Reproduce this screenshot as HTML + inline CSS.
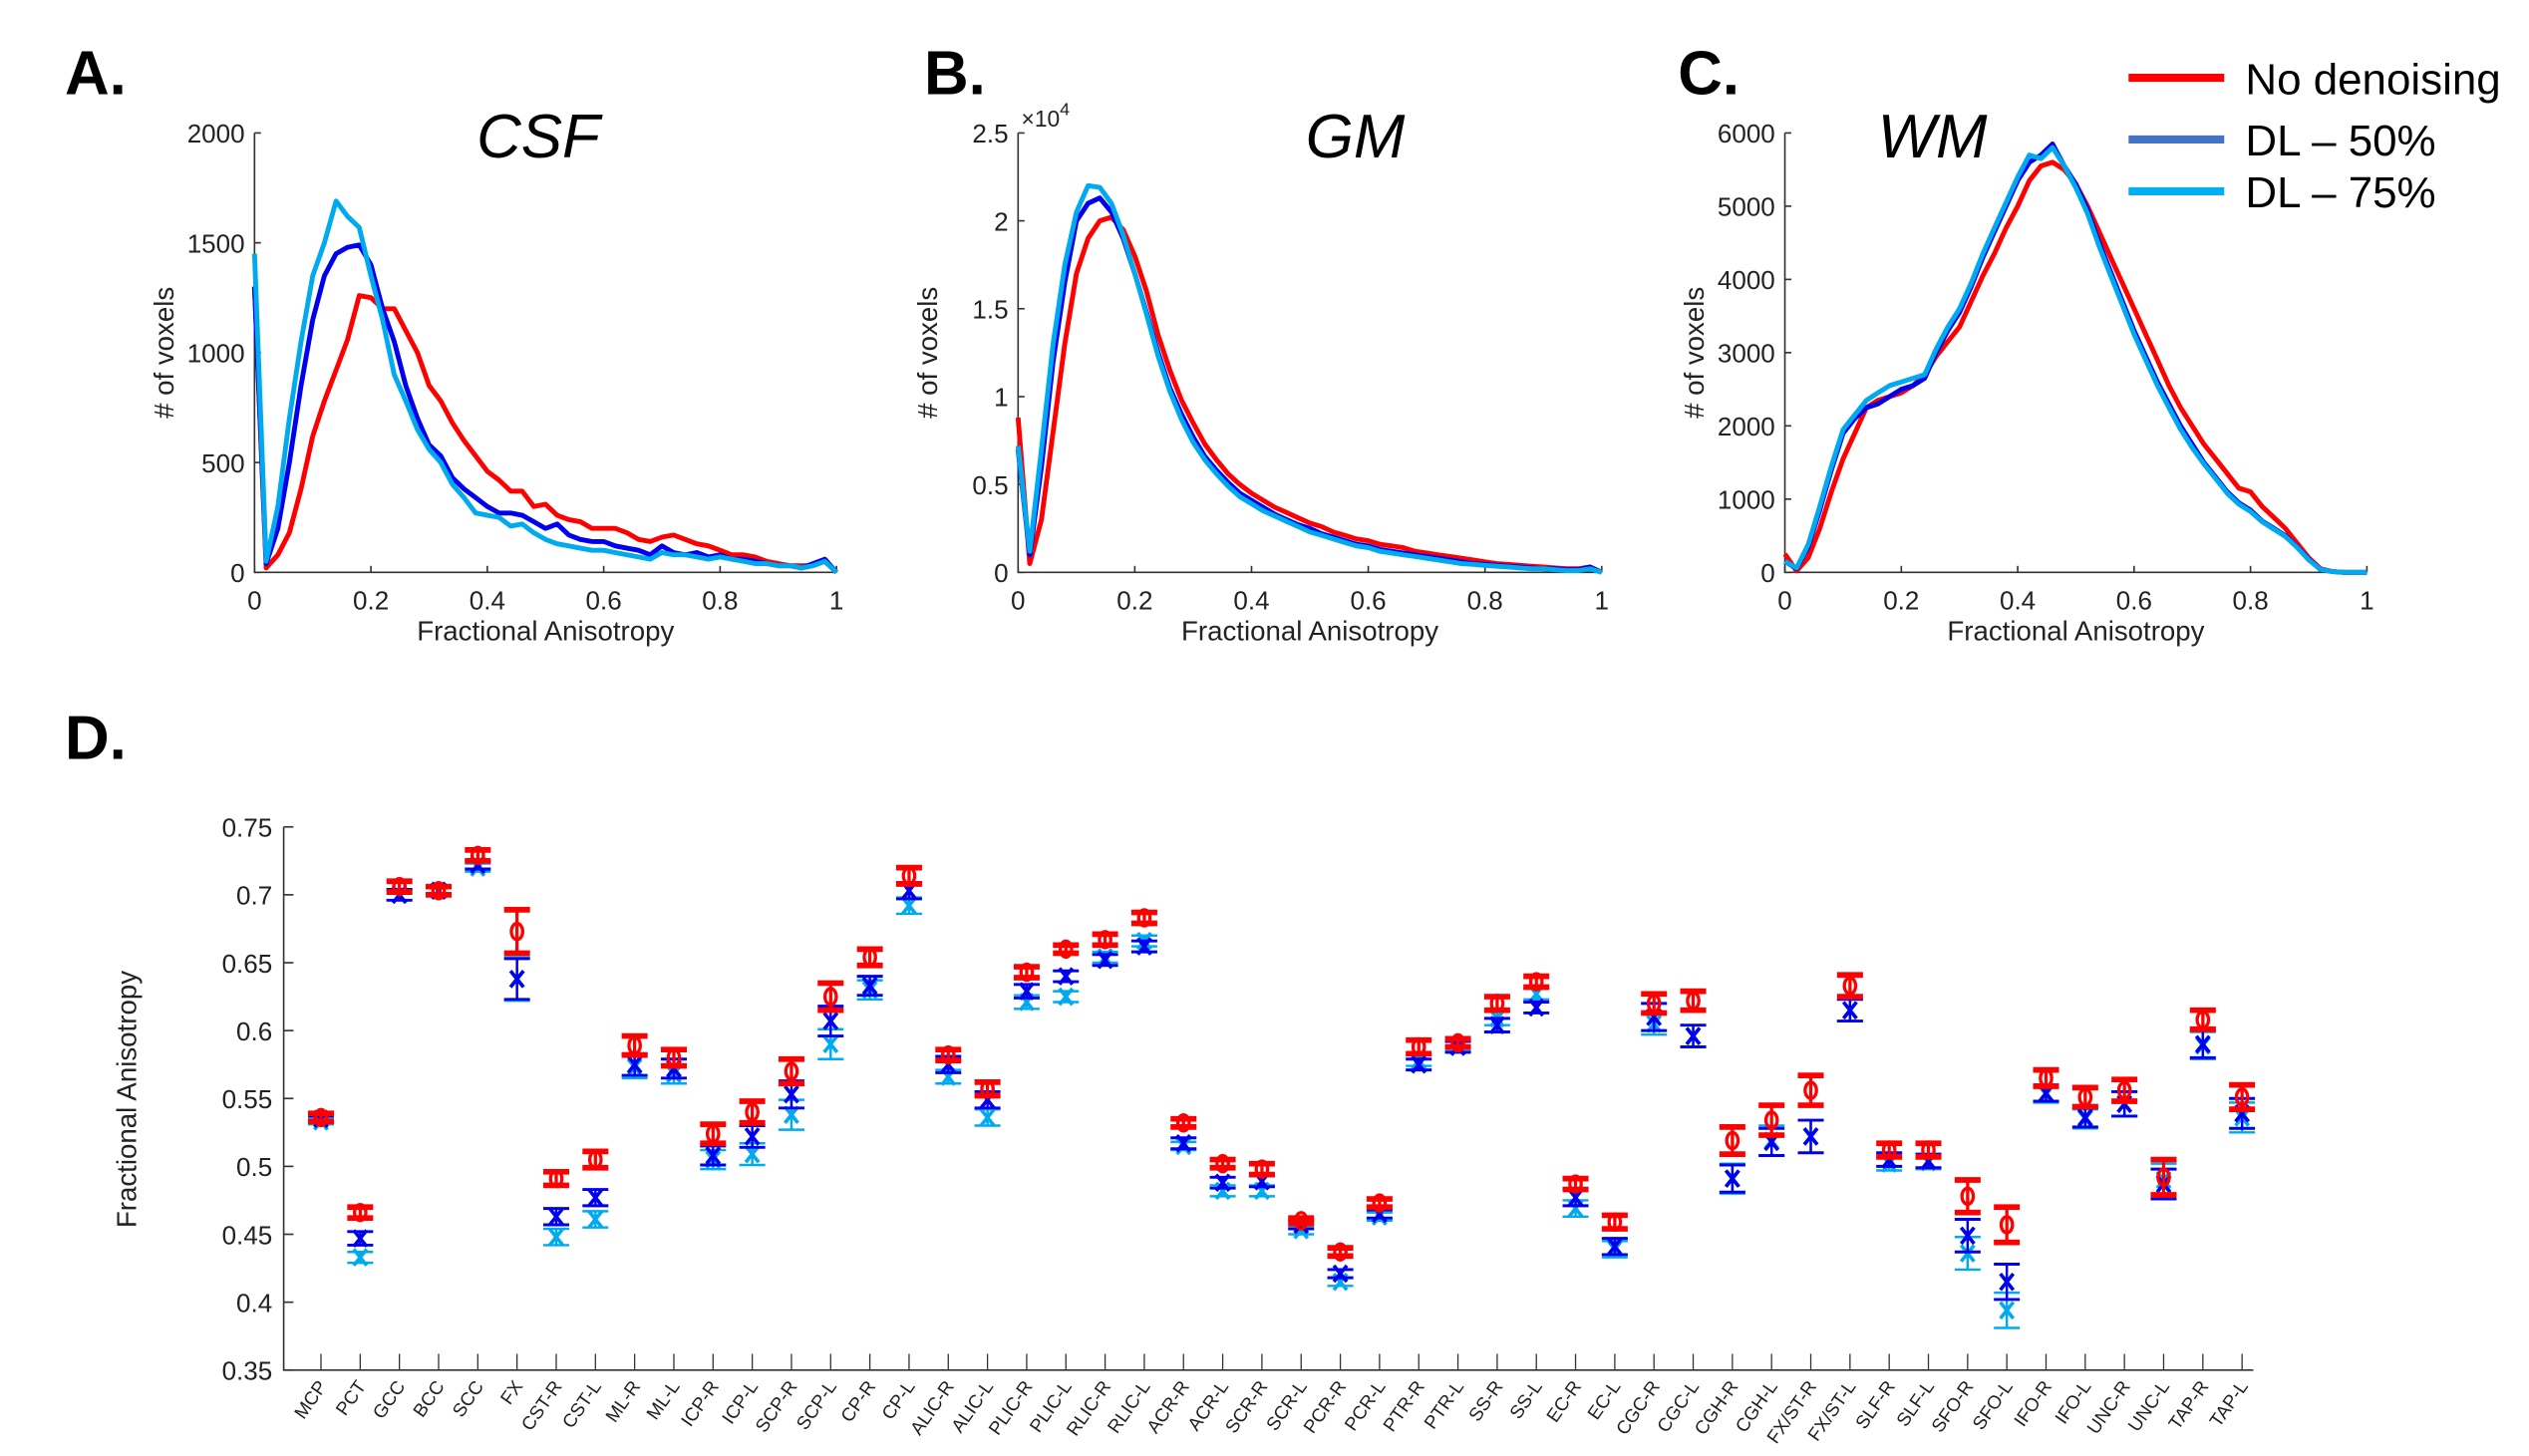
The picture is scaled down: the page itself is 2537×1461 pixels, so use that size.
<!DOCTYPE html>
<html><head><meta charset="utf-8"><style>
html,body{margin:0;padding:0;background:#fff;}
svg{display:block;}
text{font-family:"Liberation Sans",sans-serif;}
</style></head><body>
<svg id="fig" width="2537" height="1461" viewBox="0 0 1560 898" preserveAspectRatio="none" xmlns="http://www.w3.org/2000/svg">
<text x="40" y="58" font-size="38" font-weight="bold">A.</text>
<text x="570" y="58" font-size="38" font-weight="bold">B.</text>
<text x="1035" y="58" font-size="38" font-weight="bold">C.</text>
<text x="40" y="468" font-size="38" font-weight="bold">D.</text>
<g>
<line x1="1313" y1="48" x2="1372" y2="48" stroke="#ff0000" stroke-width="5"/>
<text x="1385" y="58" font-size="27">No denoising</text>
<line x1="1313" y1="86" x2="1372" y2="86" stroke="#4472c4" stroke-width="5"/>
<text x="1385" y="96" font-size="27">DL – 50%</text>
<line x1="1313" y1="118" x2="1372" y2="118" stroke="#00b0f0" stroke-width="5"/>
<text x="1385" y="128" font-size="27">DL – 75%</text>
</g>
</svg>
<script>
const faBins = [0,.02,.04,.06,.08,.1,.12,.14,.16,.18,.2,.22,.24,.26,.28,.3,.32,.34,.36,.38,.4,.42,.44,.46,.48,.5,.52,.54,.56,.58,.6,.62,.64,.66,.68,.7,.72,.74,.76,.78,.8,.82,.84,.86,.88,.9,.92,.94,.96,.98,1];
const csfRed = [1300,20,80,180,380,620,780,920,1060,1260,1250,1200,1200,1100,1000,850,780,680,600,530,460,420,370,370,300,310,260,240,230,200,200,200,180,150,140,160,170,150,130,120,100,80,80,70,50,40,30,30,30,50,0];
const csfBlue = [1300,40,200,500,850,1150,1350,1450,1480,1490,1400,1200,1050,850,700,580,530,430,380,340,300,270,270,260,230,200,220,170,150,140,140,120,110,100,80,120,90,80,90,70,80,60,60,50,40,30,30,20,40,60,0];
const csfCyan = [1450,50,300,700,1050,1350,1500,1690,1620,1570,1350,1150,900,780,650,560,500,400,340,270,260,250,210,220,180,150,130,120,110,100,100,90,80,70,60,90,80,80,70,60,70,60,50,40,40,30,30,20,30,50,0];
const gmRed = [0.88,0.05,0.3,0.8,1.3,1.7,1.9,2.0,2.02,1.95,1.8,1.6,1.35,1.15,0.98,0.85,0.73,0.64,0.56,0.5,0.45,0.41,0.37,0.34,0.31,0.28,0.26,0.23,0.21,0.19,0.18,0.16,0.15,0.14,0.12,0.11,0.1,0.09,0.08,0.07,0.06,0.05,0.045,0.04,0.035,0.03,0.025,0.02,0.02,0.03,0];
const gmBlue = [0.7,0.1,0.6,1.2,1.65,2.0,2.1,2.13,2.05,1.9,1.7,1.48,1.25,1.05,0.9,0.77,0.66,0.58,0.51,0.45,0.41,0.37,0.33,0.3,0.27,0.25,0.22,0.2,0.18,0.16,0.15,0.13,0.12,0.11,0.1,0.09,0.08,0.07,0.06,0.05,0.045,0.04,0.035,0.03,0.025,0.02,0.02,0.015,0.015,0.03,0];
const gmCyan = [0.72,0.12,0.7,1.3,1.75,2.05,2.2,2.19,2.1,1.92,1.7,1.47,1.23,1.03,0.87,0.74,0.64,0.56,0.49,0.43,0.39,0.35,0.32,0.29,0.26,0.23,0.21,0.19,0.17,0.15,0.14,0.12,0.11,0.1,0.09,0.08,0.07,0.06,0.05,0.045,0.04,0.035,0.03,0.025,0.02,0.02,0.015,0.01,0.01,0.02,0];
const wmRed = [250,20,200,600,1100,1550,1900,2250,2350,2400,2450,2550,2700,2950,3150,3350,3700,4050,4350,4700,5000,5350,5550,5600,5500,5300,5000,4650,4300,3950,3600,3250,2900,2550,2250,2000,1750,1550,1350,1150,1100,900,750,600,400,200,50,10,0,0,0];
const wmBlue = [150,50,350,850,1400,1900,2100,2250,2300,2400,2500,2550,2650,3000,3300,3550,3900,4300,4650,5000,5350,5600,5700,5850,5550,5300,4950,4500,4100,3700,3300,2950,2600,2300,2000,1750,1500,1300,1100,950,850,700,600,500,350,180,40,10,0,0,0];
const wmCyan = [150,60,380,900,1450,1950,2150,2350,2450,2550,2600,2650,2700,3050,3350,3600,3950,4350,4700,5050,5400,5700,5650,5800,5550,5250,4900,4450,4050,3650,3250,2900,2550,2250,1950,1700,1480,1280,1080,930,830,690,590,490,340,170,40,10,0,0,0];
const xTicks = [0,0.2,0.4,0.6,0.8,1];
const csfYTicks = [0,500,1000,1500,2000];
const gmYTicks = [0,0.5,1,1.5,2,2.5];
const wmYTicks = [0,1000,2000,3000,4000,5000,6000];

const tracts = ["MCP","PCT","GCC","BCC","SCC","FX","CST-R","CST-L","ML-R","ML-L","ICP-R","ICP-L","SCP-R","SCP-L","CP-R","CP-L","ALIC-R","ALIC-L","PLIC-R","PLIC-L","RLIC-R","RLIC-L","ACR-R","ACR-L","SCR-R","SCR-L","PCR-R","PCR-L","PTR-R","PTR-L","SS-R","SS-L","EC-R","EC-L","CGC-R","CGC-L","CGH-R","CGH-L","FX/ST-R","FX/ST-L","SLF-R","SLF-L","SFO-R","SFO-L","IFO-R","IFO-L","UNC-R","UNC-L","TAP-R","TAP-L"];
const faNoDenoise = [.536,.466,.706,.703,.729,.673,.491,.505,.589,.580,.524,.540,.570,.625,.654,.714,.582,.557,.643,.660,.667,.683,.532,.502,.498,.460,.437,.473,.588,.591,.620,.636,.487,.459,.620,.622,.519,.534,.556,.633,.512,.512,.478,.457,.565,.551,.556,.492,.608,.551];
const faDL50 = [.535,.447,.700,.703,.722,.638,.463,.477,.575,.572,.508,.522,.553,.607,.633,.703,.575,.549,.629,.640,.652,.662,.517,.488,.489,.457,.421,.465,.575,.588,.604,.617,.477,.441,.610,.596,.491,.518,.522,.615,.505,.504,.449,.415,.554,.536,.546,.487,.590,.539];
const faDL75 = [.533,.433,.700,.703,.720,.638,.448,.461,.573,.568,.505,.509,.538,.590,.630,.692,.566,.536,.621,.625,.654,.666,.515,.482,.482,.453,.415,.463,.578,.589,.609,.627,.469,.439,.605,.596,.491,.519,.522,.615,.502,.503,.436,.394,.553,.535,.546,.490,.589,.536];
const errNoDenoise = [.003,.004,.004,.003,.004,.016,.005,.006,.007,.006,.007,.008,.009,.01,.006,.006,.004,.005,.004,.003,.004,.004,.003,.003,.004,.002,.003,.003,.005,.003,.005,.004,.004,.005,.007,.007,.01,.011,.011,.008,.005,.005,.012,.013,.006,.007,.008,.013,.007,.009];
const errDL50 = [.002,.005,.004,.002,.003,.015,.006,.006,.008,.007,.007,.008,.01,.011,.007,.006,.006,.006,.005,.004,.004,.004,.004,.004,.004,.003,.003,.003,.004,.004,.005,.004,.006,.006,.01,.008,.01,.01,.012,.008,.005,.005,.012,.013,.006,.007,.009,.011,.01,.011];
const errDL75 = [.002,.004,.004,.002,.003,.016,.006,.006,.008,.007,.007,.008,.011,.011,.007,.006,.005,.006,.005,.004,.004,.004,.003,.004,.004,.003,.003,.003,.004,.004,.005,.004,.006,.006,.008,.008,.011,.011,.012,.008,.005,.005,.012,.013,.006,.007,.009,.012,.01,.011];
const dYTicks = [0.35,0.4,0.45,0.5,0.55,0.6,0.65,0.7,0.75];

const NS="http://www.w3.org/2000/svg";
const svg=document.getElementById('fig');
function mk(tag,attrs,parent){const e=document.createElementNS(NS,tag);for(const k in attrs)e.setAttribute(k,attrs[k]);(parent||svg).appendChild(e);return e;}
const RED="#ff0000",BLUE="#0000ee",CYAN="#00aaee";

function histPanel(name,x0,x1,yTop,yBot,yMax,yTicks,series,title,titleX,ylabel){
  const g=mk('g',{});
  
  
  const sx=v=>x0+v*(x1-x0), sy=v=>yBot-(v/yMax)*(yBot-yTop);
  const ax=mk('path',{d:`M${x0},${yTop}V${yBot}H${x1}`,fill:'none',stroke:'#333','stroke-width':1},g);
  
  
  xTicks.forEach(t=>{
    mk('line',{x1:sx(t),x2:sx(t),y1:yBot,y2:yBot-4,stroke:'#333','stroke-width':1},g);
    const tx=mk('text',{x:sx(t),y:yBot+23,'font-size':16,'text-anchor':'middle',fill:'#222'},g);
    tx.textContent=t;
    
    
  });
  yTicks.forEach(t=>{
    mk('line',{x1:x0,x2:x0+4,y1:sy(t),y2:sy(t),stroke:'#333','stroke-width':1},g);
    const tx=mk('text',{x:x0-6,y:sy(t)+6,'font-size':16,'text-anchor':'end',fill:'#222'},g);
    tx.textContent=t;
    
    
  });
  series.forEach(s=>{
    const d=faBins.map((b,i)=>(i?'L':'M')+sx(b).toFixed(1)+','+sy(s.v[i]).toFixed(1)).join('');
    const p=mk('path',{d:d,fill:'none',stroke:s.c,'stroke-width':3,'stroke-linejoin':'round'},g);
    
    
  });
  const tt=mk('text',{x:titleX,y:97,'font-size':38,'font-style':'italic','text-anchor':'middle',fill:'#000'},g);
  tt.textContent=title;
  
  
  const xl=mk('text',{x:(x0+x1)/2,y:yBot+42,'font-size':17,'text-anchor':'middle',fill:'#222'},g);
  xl.textContent='Fractional Anisotropy';
  
  
  const yl=mk('text',{x:0,y:0,'font-size':17,'text-anchor':'middle',fill:'#222',transform:`translate(${x0-50},${(yTop+yBot)/2}) rotate(-90)`},g);
  yl.textContent=ylabel;
  
  
  return g;
}
histPanel('csf',157,516,82,353,2000,csfYTicks,[{n:'no-denoising',c:RED,v:csfRed},{n:'dl50',c:BLUE,v:csfBlue},{n:'dl75',c:CYAN,v:csfCyan}],'CSF',332,'# of voxels');
const gmg=histPanel('gm',628,988,82,353,2.5,gmYTicks,[{n:'no-denoising',c:RED,v:gmRed},{n:'dl50',c:BLUE,v:gmBlue},{n:'dl75',c:CYAN,v:gmCyan}],'GM',836,'# of voxels');
const ex=mk('text',{x:630,y:78,'font-size':14,fill:'#222'},gmg);
ex.innerHTML='×10<tspan dy="-7" font-size="11">4</tspan>';


histPanel('wm',1101,1460,82,353,6000,wmYTicks,[{n:'no-denoising',c:RED,v:wmRed},{n:'dl50',c:BLUE,v:wmBlue},{n:'dl75',c:CYAN,v:wmCyan}],'WM',1192,'# of voxels');

// Panel D
(function(){
  const g=mk('g',{});
  
  
  const X0=175,X1=1390,YT=510,YB=845,ymin=0.35,ymax=0.75;
  const sy=v=>YB-(v-ymin)/(ymax-ymin)*(YB-YT);
  const step=(1383-198)/(tracts.length-1);
  const sx=i=>198+i*step;
  const ax=mk('path',{d:`M${X0},${YT}V${YB}H${X1}`,fill:'none',stroke:'#333','stroke-width':1},g);
  
  
  dYTicks.forEach(t=>{
    mk('line',{x1:X0,x2:X0+6,y1:sy(t),y2:sy(t),stroke:'#333','stroke-width':1},g);
    const tx=mk('text',{x:X0-7,y:sy(t)+6,'font-size':16,'text-anchor':'end',fill:'#222'},g);
    tx.textContent=t;
    
    
  });
  const yl=mk('text',{x:0,y:0,'font-size':17,'text-anchor':'middle',fill:'#222',transform:`translate(84,678) rotate(-90)`},g);
  yl.textContent='Fractional Anisotropy';
  
  
  tracts.forEach((t,i)=>{
    mk('line',{x1:sx(i),x2:sx(i),y1:YB,y2:YB-10,stroke:'#333','stroke-width':0.8},g);
    const tx=mk('text',{x:0,y:0,'font-size':11.5,'text-anchor':'end',fill:'#222',transform:`translate(${sx(i)+4},${YB+10}) rotate(-55)`},g);
    tx.textContent=t;
    
    
  });
  const series=[
    {n:'dl75',c:CYAN,v:faDL75,e:errDL75,m:'x',w:1.5,cw:1.5},
    {n:'dl50',c:BLUE,v:faDL50,e:errDL50,m:'x',w:1.5,cw:1.8},
    {n:'no-denoising',c:RED,v:faNoDenoise,e:errNoDenoise,m:'o',w:2,cw:3.5}
  ];
  series.forEach(s=>{
    s.v.forEach((v,i)=>{
      const x=sx(i), y=sy(v), yl=sy(v-s.e[i]), yh=sy(v+s.e[i]);
      const eb=mk('path',{d:`M${x},${yl}V${yh}`,stroke:s.c,'stroke-width':s.w,fill:'none'},g);
      
      
      const cp=mk('path',{d:`M${x-8},${yl}H${x+8}M${x-8},${yh}H${x+8}`,stroke:s.c,'stroke-width':s.cw,fill:'none'},g);
      
      
      let mkr;
      if(s.m==='o') mkr=mk('ellipse',{cx:x,cy:y,rx:3.5,ry:5,fill:'none',stroke:s.c,'stroke-width':2},g);
      else mkr=mk('path',{d:`M${x-4},${y-5}L${x+4},${y+5}M${x-4},${y+5}L${x+4},${y-5}`,stroke:s.c,'stroke-width':2.2,fill:'none'},g);
      
      
    });
  });
})();
</script>
</body></html>
